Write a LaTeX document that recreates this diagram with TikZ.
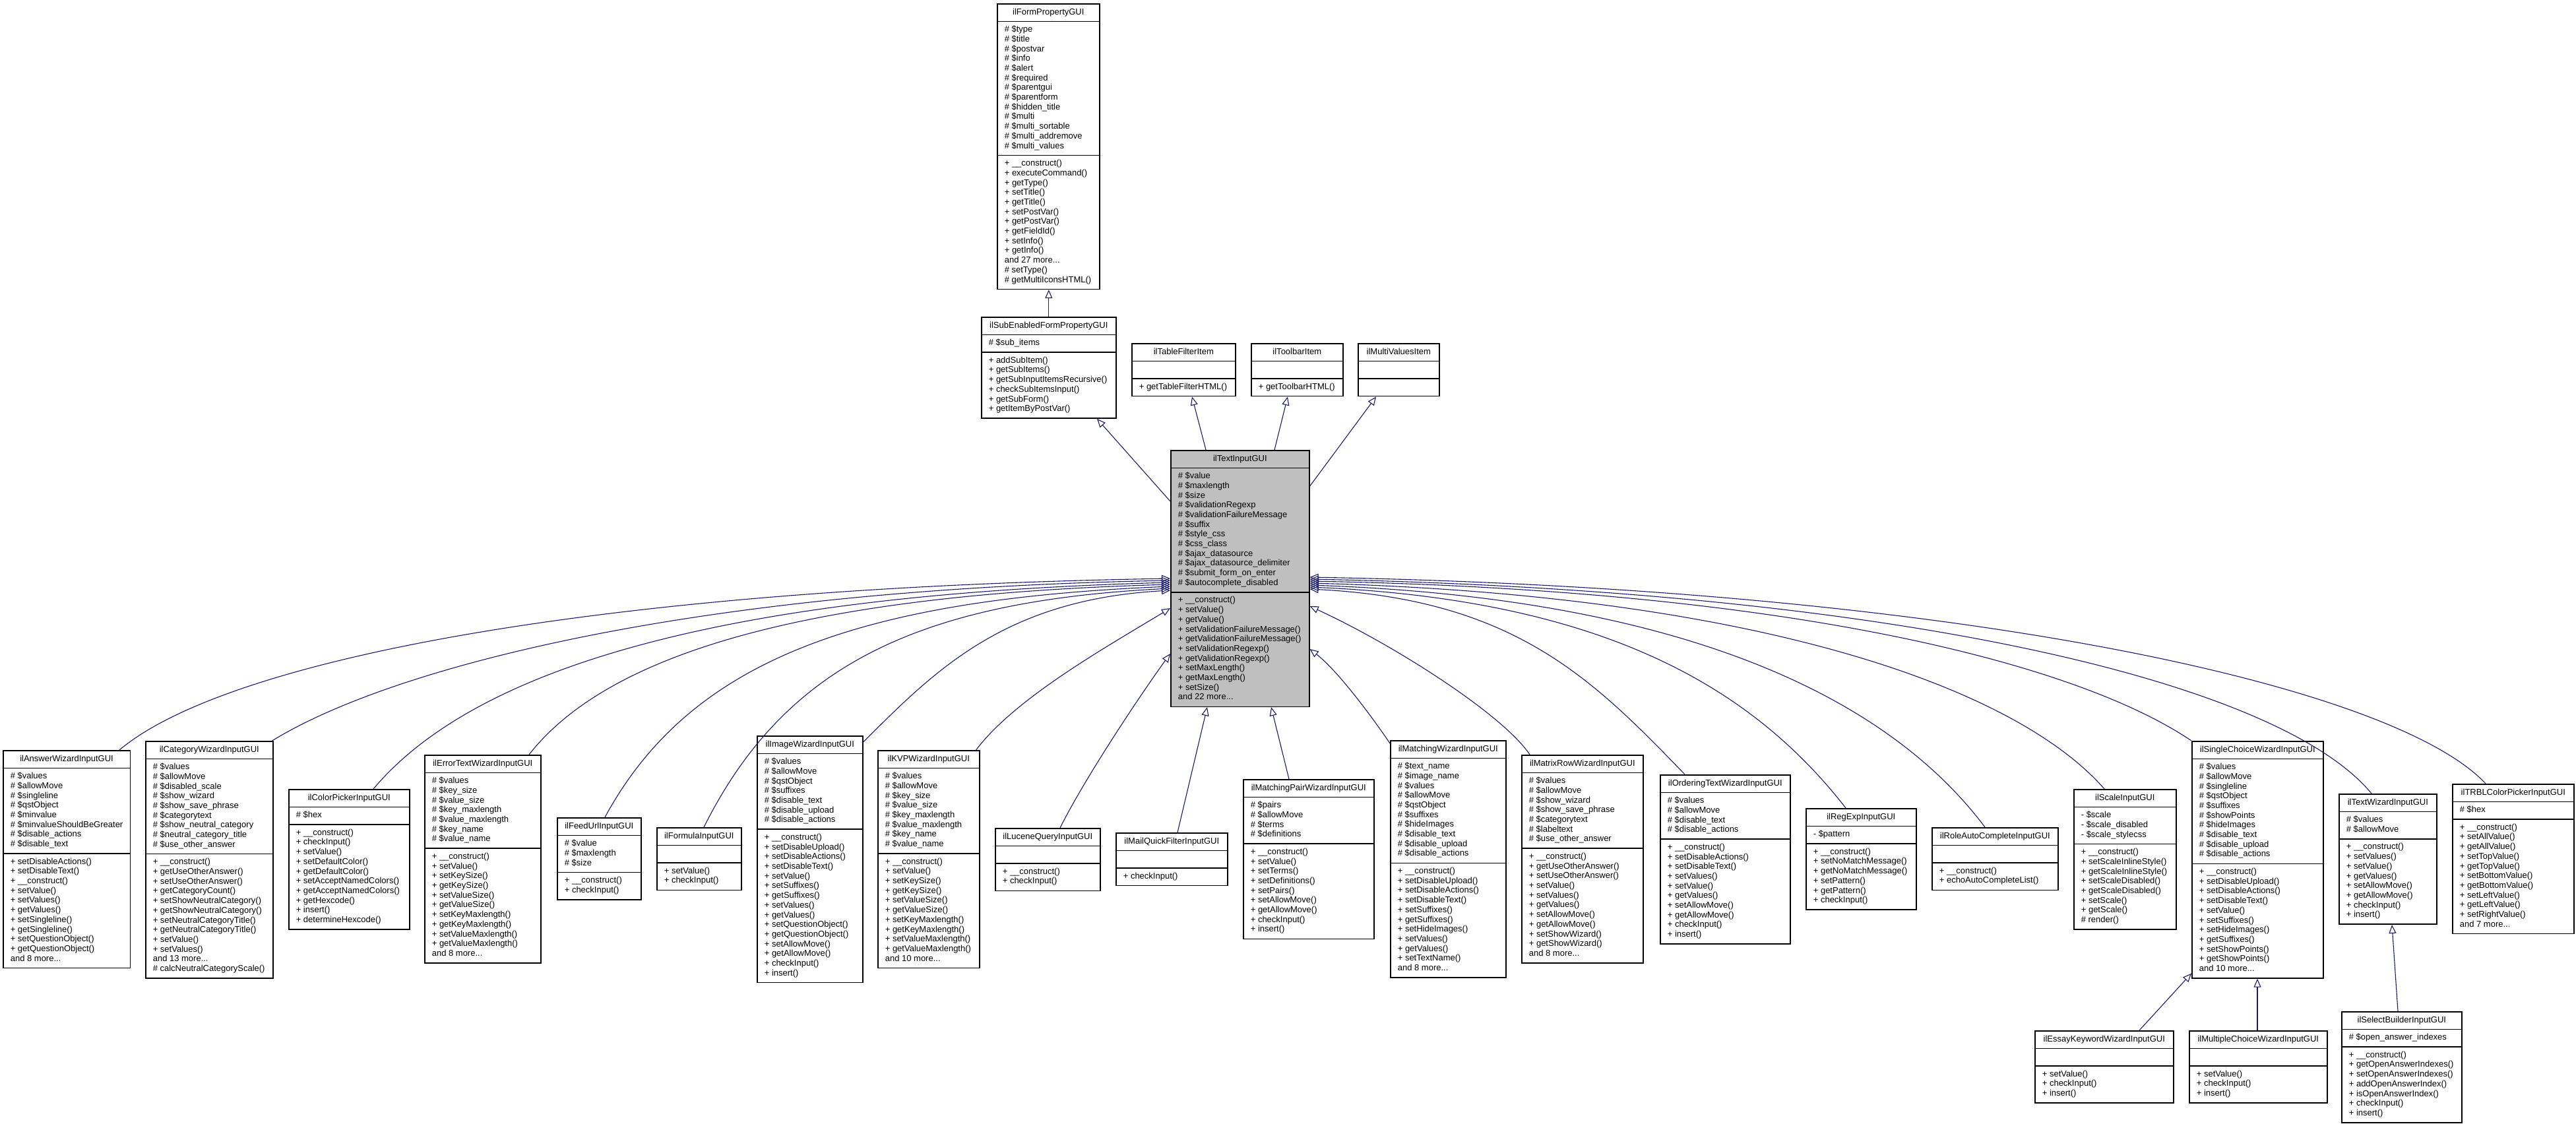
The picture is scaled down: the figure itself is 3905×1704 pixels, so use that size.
\documentclass[tikz,border=0pt]{standalone}
\usepackage{fontspec}
\setmainfont{Liberation Sans}
\usetikzlibrary{shapes.multipart,arrows.meta,calc}
\definecolor{edgeblue}{HTML}{191970}
\definecolor{hlgray}{HTML}{BFBFBF}
\tikzset{
  cls/.style={rectangle split, rectangle split parts=3, draw=black, line width=1.6pt,
    fill=white, anchor=north west, inner xsep=11pt, inner ysep=5.15pt, align=left,
    rectangle split part align={center,left,left},
    font=\fontsize{13}{14.7}\selectfont, minimum width=#1},
  inh/.style={draw=edgeblue, line width=1.1pt,
    -{Triangle[open, length=13pt, width=11pt, line width=1.1pt]}},
}
\newcommand\umlclass[7]{%
  \node[cls=#4] (#1) at (#2,#3) {\strut #5\nodepart{second}\strut #6\strut\nodepart{third}\strut #7\strut};%
}
\begin{document}
\begin{tikzpicture}[x=1pt,y=-1pt]
\path[use as bounding box, fill=white] (0,0) rectangle (3905,1704);

% ---------- top ----------
\umlclass{fp}{1511}{5}{155}{ilFormPropertyGUI}
{\# \$type\\\# \$title\\\# \$postvar\\\# \$info\\\# \$alert\\\# \$required\\\# \$parentgui\\\# \$parentform\\\# \$hidden\_title\\\# \$multi\\\# \$multi\_sortable\\\# \$multi\_addremove\\\# \$multi\_values}
{+ \_\_construct()\\+ executeCommand()\\+ getType()\\+ setTitle()\\+ getTitle()\\+ setPostVar()\\+ getPostVar()\\+ getFieldId()\\+ setInfo()\\+ getInfo()\\and 27 more...\\\# setType()\\\# getMultiIconsHTML()}

\umlclass{sub}{1487}{480}{204}{ilSubEnabledFormPropertyGUI}
{\# \$sub\_items}
{+ addSubItem()\\+ getSubItems()\\+ getSubInputItemsRecursive()\\+ checkSubItemsInput()\\+ getSubForm()\\+ getItemByPostVar()}

\umlclass{tf}{1715}{520}{157}{ilTableFilterItem}{}{+ getTableFilterHTML()}
\umlclass{tb}{1896}{520}{139}{ilToolbarItem}{}{+ getToolbarHTML()}
\umlclass{mv}{2058}{520}{123}{ilMultiValuesItem}{}{}

\node[cls=210, fill=hlgray] (tig) at (1774,682) {\strut ilTextInputGUI\nodepart{second}\strut \# \$value\\\# \$maxlength\\\# \$size\\\# \$validationRegexp\\\# \$validationFailureMessage\\\# \$suffix\\\# \$style\_css\\\# \$css\_class\\\# \$ajax\_datasource\\\# \$ajax\_datasource\_delimiter\\\# \$submit\_form\_on\_enter\\\# \$autocomplete\_disabled\strut\nodepart{third}\strut + \_\_construct()\\+ setValue()\\+ getValue()\\+ setValidationFailureMessage()\\+ getValidationFailureMessage()\\+ setValidationRegexp()\\+ getValidationRegexp()\\+ setMaxLength()\\+ getMaxLength()\\+ setSize()\\and 22 more...\strut};

% ---------- bottom row ----------
\umlclass{answer}{4}{1137}{192}{ilAnswerWizardInputGUI}
{\# \$values\\\# \$allowMove\\\# \$singleline\\\# \$qstObject\\\# \$minvalue\\\# \$minvalueShouldBeGreater\\\# \$disable\_actions\\\# \$disable\_text}
{+ setDisableActions()\\+ setDisableText()\\+ \_\_construct()\\+ setValue()\\+ setValues()\\+ getValues()\\+ setSingleline()\\+ getSingleline()\\+ setQuestionObject()\\+ getQuestionObject()\\and 8 more...}

\umlclass{cat}{220}{1123}{193}{ilCategoryWizardInputGUI}
{\# \$values\\\# \$allowMove\\\# \$disabled\_scale\\\# \$show\_wizard\\\# \$show\_save\_phrase\\\# \$categorytext\\\# \$show\_neutral\_category\\\# \$neutral\_category\_title\\\# \$use\_other\_answer}
{+ \_\_construct()\\+ getUseOtherAnswer()\\+ setUseOtherAnswer()\\+ getCategoryCount()\\+ setShowNeutralCategory()\\+ getShowNeutralCategory()\\+ setNeutralCategoryTitle()\\+ getNeutralCategoryTitle()\\+ setValue()\\+ setValues()\\and 13 more...\\\# calcNeutralCategoryScale()}

\umlclass{cp}{437}{1196}{183}{ilColorPickerInputGUI}
{\# \$hex}
{+ \_\_construct()\\+ checkInput()\\+ setValue()\\+ setDefaultColor()\\+ getDefaultColor()\\+ setAcceptNamedColors()\\+ getAcceptNamedColors()\\+ getHexcode()\\+ insert()\\+ determineHexcode()}

\umlclass{err}{643}{1144}{176}{ilErrorTextWizardInputGUI}
{\# \$values\\\# \$key\_size\\\# \$value\_size\\\# \$key\_maxlength\\\# \$value\_maxlength\\\# \$key\_name\\\# \$value\_name}
{+ \_\_construct()\\+ setValue()\\+ setKeySize()\\+ getKeySize()\\+ setValueSize()\\+ getValueSize()\\+ setKeyMaxlength()\\+ getKeyMaxlength()\\+ setValueMaxlength()\\+ getValueMaxlength()\\and 8 more...}

\umlclass{feed}{844}{1239}{127}{ilFeedUrlInputGUI}
{\# \$value\\\# \$maxlength\\\# \$size}
{+ \_\_construct()\\+ checkInput()}

\umlclass{formula}{995}{1254}{128}{ilFormulaInputGUI}{}{+ setValue()\\+ checkInput()}

\umlclass{img}{1147}{1115}{160}{ilImageWizardInputGUI}
{\# \$values\\\# \$allowMove\\\# \$qstObject\\\# \$suffixes\\\# \$disable\_text\\\# \$disable\_upload\\\# \$disable\_actions}
{+ \_\_construct()\\+ setDisableUpload()\\+ setDisableActions()\\+ setDisableText()\\+ setValue()\\+ setSuffixes()\\+ getSuffixes()\\+ setValues()\\+ getValues()\\+ setQuestionObject()\\+ getQuestionObject()\\+ setAllowMove()\\+ getAllowMove()\\+ checkInput()\\+ insert()}

\umlclass{kvp}{1330}{1137}{154}{ilKVPWizardInputGUI}
{\# \$values\\\# \$allowMove\\\# \$key\_size\\\# \$value\_size\\\# \$key\_maxlength\\\# \$value\_maxlength\\\# \$key\_name\\\# \$value\_name}
{+ \_\_construct()\\+ setValue()\\+ setKeySize()\\+ getKeySize()\\+ setValueSize()\\+ getValueSize()\\+ setKeyMaxlength()\\+ getKeyMaxlength()\\+ setValueMaxlength()\\+ getValueMaxlength()\\and 10 more...}

\umlclass{lucene}{1508}{1255}{159}{ilLuceneQueryInputGUI}{}{+ \_\_construct()\\+ checkInput()}

\umlclass{mail}{1691}{1262}{169}{ilMailQuickFilterInputGUI}{}{+ checkInput()}

\umlclass{mpair}{1884}{1181}{198}{ilMatchingPairWizardInputGUI}
{\# \$pairs\\\# \$allowMove\\\# \$terms\\\# \$definitions}
{+ \_\_construct()\\+ setValue()\\+ setTerms()\\+ setDefinitions()\\+ setPairs()\\+ setAllowMove()\\+ getAllowMove()\\+ checkInput()\\+ insert()}

\umlclass{mwiz}{2107}{1122}{175}{ilMatchingWizardInputGUI}
{\# \$text\_name\\\# \$image\_name\\\# \$values\\\# \$allowMove\\\# \$qstObject\\\# \$suffixes\\\# \$hideImages\\\# \$disable\_text\\\# \$disable\_upload\\\# \$disable\_actions}
{+ \_\_construct()\\+ setDisableUpload()\\+ setDisableActions()\\+ setDisableText()\\+ setSuffixes()\\+ getSuffixes()\\+ setHideImages()\\+ setValues()\\+ getValues()\\+ setTextName()\\and 8 more...}

\umlclass{mrow}{2306}{1144}{184}{ilMatrixRowWizardInputGUI}
{\# \$values\\\# \$allowMove\\\# \$show\_wizard\\\# \$show\_save\_phrase\\\# \$categorytext\\\# \$labeltext\\\# \$use\_other\_answer}
{+ \_\_construct()\\+ getUseOtherAnswer()\\+ setUseOtherAnswer()\\+ setValue()\\+ setValues()\\+ getValues()\\+ setAllowMove()\\+ getAllowMove()\\+ setShowWizard()\\+ getShowWizard()\\and 8 more...}

\umlclass{ord}{2516}{1174}{197}{ilOrderingTextWizardInputGUI}
{\# \$values\\\# \$allowMove\\\# \$disable\_text\\\# \$disable\_actions}
{+ \_\_construct()\\+ setDisableActions()\\+ setDisableText()\\+ setValues()\\+ setValue()\\+ getValues()\\+ setAllowMove()\\+ getAllowMove()\\+ checkInput()\\+ insert()}

\umlclass{regexp}{2737}{1225}{167}{ilRegExpInputGUI}
{- \$pattern}
{+ \_\_construct()\\+ setNoMatchMessage()\\+ getNoMatchMessage()\\+ setPattern()\\+ getPattern()\\+ checkInput()}

\umlclass{role}{2928}{1254}{191}{ilRoleAutoCompleteInputGUI}{}{+ \_\_construct()\\+ echoAutoCompleteList()}

\umlclass{scale}{3143}{1196}{155}{ilScaleInputGUI}
{- \$scale\\- \$scale\_disabled\\- \$scale\_stylecss}
{+ \_\_construct()\\+ setScaleInlineStyle()\\+ getScaleInlineStyle()\\+ setScaleDisabled()\\+ getScaleDisabled()\\+ setScale()\\+ getScale()\\\# render()}

\umlclass{sc}{3322}{1123}{199}{ilSingleChoiceWizardInputGUI}
{\# \$values\\\# \$allowMove\\\# \$singleline\\\# \$qstObject\\\# \$suffixes\\\# \$showPoints\\\# \$hideImages\\\# \$disable\_text\\\# \$disable\_upload\\\# \$disable\_actions}
{+ \_\_construct()\\+ setDisableUpload()\\+ setDisableActions()\\+ setDisableText()\\+ setValue()\\+ setSuffixes()\\+ setHideImages()\\+ getSuffixes()\\+ setShowPoints()\\+ getShowPoints()\\and 10 more...}

\umlclass{tw}{3545}{1203}{148}{ilTextWizardInputGUI}
{\# \$values\\\# \$allowMove}
{+ \_\_construct()\\+ setValues()\\+ setValue()\\+ getValues()\\+ setAllowMove()\\+ getAllowMove()\\+ checkInput()\\+ insert()}

\umlclass{trbl}{3717}{1188}{184}{ilTRBLColorPickerInputGUI}
{\# \$hex}
{+ \_\_construct()\\+ setAllValue()\\+ getAllValue()\\+ setTopValue()\\+ getTopValue()\\+ setBottomValue()\\+ getBottomValue()\\+ setLeftValue()\\+ getLeftValue()\\+ setRightValue()\\and 7 more...}

\umlclass{essay}{3084}{1562}{210}{ilEssayKeywordWizardInputGUI}{}{+ setValue()\\+ checkInput()\\+ insert()}
\umlclass{mc}{3318}{1562}{209}{ilMultipleChoiceWizardInputGUI}{}{+ setValue()\\+ checkInput()\\+ insert()}
\umlclass{sb}{3549}{1533}{182}{ilSelectBuilderInputGUI}
{\# \$open\_answer\_indexes}
{+ \_\_construct()\\+ getOpenAnswerIndexes()\\+ setOpenAnswerIndexes()\\+ addOpenAnswerIndex()\\+ isOpenAnswerIndex()\\+ checkInput()\\+ insert()}

% ---------- connectors (top) ----------
\draw[inh] (sub.north) -- (sub.north |- fp.south);
\draw[inh] ($(tig.north west)+(0,78)$) -- ($(sub.south west)+(176,0)$);
\draw[inh] ($(tig.north west)+(54,0)$) -- ($(tf.south west)+(92,0)$);
\draw[inh] ($(tig.north west)+(158,0)$) -- ($(tb.south west)+(56,0)$);
\draw[inh] ($(tig.north east)+(0,55)$) -- ($(mv.south west)+(28,0)$);

% ---------- connectors (left cluster) ----------
\draw[inh] ($(answer.north west)+(177,0)$) .. controls +(160,-135) and +(-880,15) .. ($(tig.north west)+(0,195)$);
\draw[inh] ($(cat.north east)+(-2,0)$) .. controls +(170,-105) and +(-750,14) .. ($(tig.north west)+(0,198)$);
\draw[inh] ($(cp.north west)+(129,0)$) .. controls +(160,-190) and +(-660,18) .. ($(tig.north west)+(0,201)$);
\draw[inh] ($(err.north west)+(159,0)$) .. controls +(125,-160) and +(-530,15) .. ($(tig.north west)+(0,204)$);
\draw[inh] ($(feed.north west)+(73,0)$) .. controls +(130,-240) and +(-470,20) .. ($(tig.north west)+(0,207)$);
\draw[inh] ($(formula.north west)+(72,0)$) .. controls +(120,-240) and +(-390,20) .. ($(tig.north west)+(0,210)$);
\draw[inh] ($(img.north east)+(0,10)$) .. controls +(110,-110) and +(-250,14) .. ($(tig.north west)+(0,213)$);
\draw[inh] ($(kvp.north east)+(-6,0)$) .. controls +(60,-80) and +(-90,55) .. ($(tig.north west)+(0,240)$);
\draw[inh] ($(lucene.north west)+(99,0)$) .. controls +(40,-80) and +(-40,55) .. ($(tig.north west)+(0,309)$);

% ---------- connectors (below) ----------
\draw[inh] ($(mail.north west)+(94,0)$) -- ($(tig.south west)+(56,0)$);
\draw[inh] ($(mpair.north west)+(70,0)$) -- ($(tig.south west)+(153,0)$);

% ---------- connectors (right cluster) ----------
\draw[inh] ($(mwiz.north west)+(0,5)$) .. controls +(-20,-30) and +(45,35) .. ($(tig.north east)+(0,302)$);
\draw[inh] ($(mrow.north west)+(13,0)$) .. controls +(-40,-60) and +(130,60) .. ($(tig.north east)+(0,237)$);
\draw[inh] ($(ord.north west)+(38,0)$) .. controls +(-140,-145) and +(310,16) .. ($(tig.north east)+(0,211)$);
\draw[inh] ($(regexp.north west)+(61,0)$) .. controls +(-140,-180) and +(450,20) .. ($(tig.north east)+(0,208)$);
\draw[inh] ($(role.north west)+(81,0)$) .. controls +(-150,-200) and +(560,20) .. ($(tig.north east)+(0,205)$);
\draw[inh] ($(scale.north west)+(47,0)$) .. controls +(-140,-160) and +(660,18) .. ($(tig.north east)+(0,202)$);
\draw[inh] (sc.north west) .. controls +(-170,-115) and +(740,14) .. ($(tig.north east)+(0,199)$);
\draw[inh] ($(tw.north west)+(50,0)$) .. controls +(-140,-170) and +(890,18) .. ($(tig.north east)+(0,196)$);
\draw[inh] ($(trbl.north west)+(51,0)$) .. controls +(-140,-150) and +(980,18) .. ($(tig.north east)+(0,193)$);

% ---------- connectors (lowest level) ----------
\draw[inh] ($(essay.north west)+(159,0)$) -- ($(sc.south west)+(0,-8)$);
\draw[inh] ($(mc.north west)+(104,0)$) -- ($(sc.south west)+(100,0)$);
\draw[inh] ($(sb.north west)+(86,0)$) -- ($(tw.south west)+(81,0)$);
\end{tikzpicture}
\end{document}
